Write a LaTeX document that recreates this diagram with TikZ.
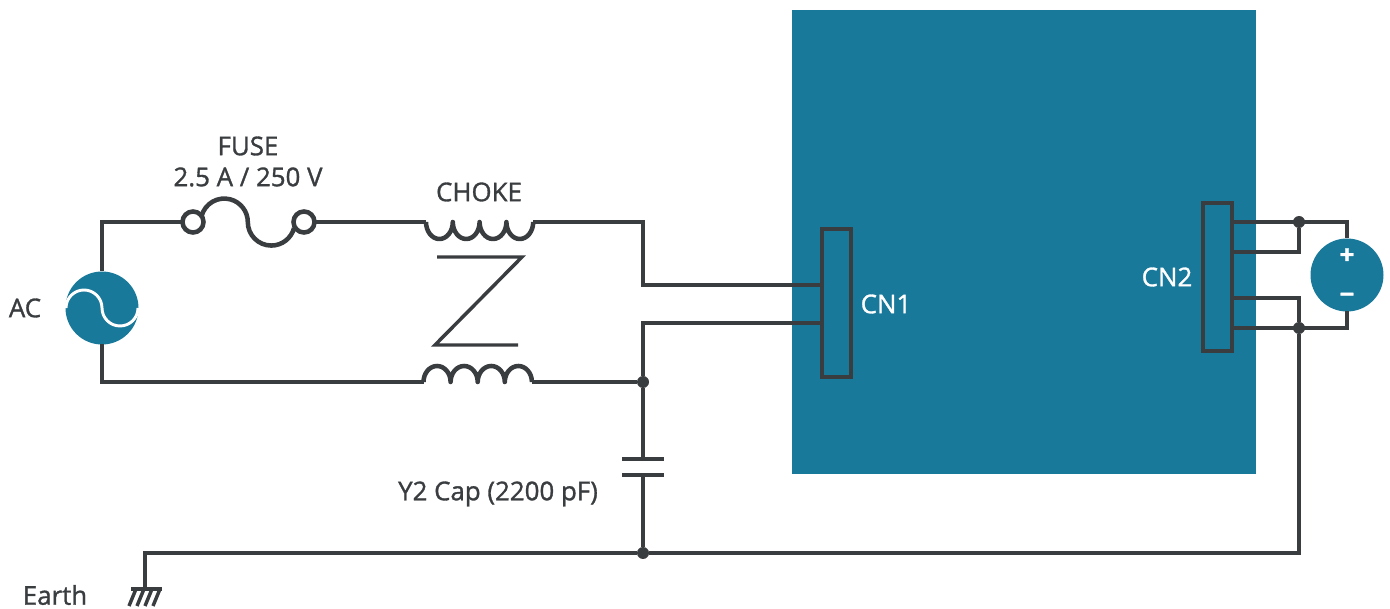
\documentclass[tikz,border=0pt]{standalone}
\usepackage{xcolor}
\usepackage{fontspec}
\setmainfont{Open Sans}[FakeBold=1.2]
\usetikzlibrary{calc}
\definecolor{tealblock}{HTML}{19799B}
\definecolor{wirecol}{HTML}{3A3D40}
\tikzset{
  wire/.style={draw=wirecol,line width=3.4pt,line join=miter},
  thinwire/.style={draw=wirecol,line width=2.6pt},
  label/.style={text=wirecol,inner sep=0pt,font=\fontsize{19.4pt}{23pt}\selectfont},
  boardlabel/.style={label,text=white},
  polarity/.style={boardlabel,font=\fontsize{19.4pt}{23pt}\selectfont\bfseries},
  source/.style={circle,fill=tealblock,inner sep=0pt,outer sep=0pt,minimum size=54.75pt},
  joint/.style={circle,fill=wirecol,inner sep=0pt,outer sep=0pt,minimum size=9pt},
  terminal/.style={circle,wire,fill=white,inner sep=0pt,outer sep=0pt,minimum size=15.75pt},
  connector/.style={rectangle,wire,inner sep=0pt,outer sep=0pt,minimum width=21.75pt,minimum height=111pt}
}
\begin{document}
\begin{tikzpicture}[x=0.75pt,y=0.75pt]
  \useasboundingbox (0,0) rectangle (1390,-609);
  % board
  \node [fill=tealblock,inner sep=0pt,minimum width=348pt,minimum height=348pt] (board) at (1024,-242) {};
  % sources
  \node [source] (ac) at (102,-308) {};
  \node [source] (dc) at (1347,-275) {};
  \draw [white,line width=2.2pt] (66,-308) arc [start angle=180,end angle=0,radius=18] arc [start angle=180,end angle=360,radius=18];
  \node [polarity] (plusLabel) at (1347,-256) {+};
  \node [polarity] (minusLabel) at (1347,-298) {\symbol{"2212}};
  % connectors
  \node [connector] (cn1) at (836.5,-303) {};
  \node [connector] (cn2) at (1217.5,-277) {};
  \coordinate (cn1a) at (822,-285);
  \coordinate (cn1b) at (822,-323);
  \coordinate (cn2a) at (1232,-222);
  \coordinate (cn2b) at (1232,-252);
  \coordinate (cn2c) at (1232,-298);
  \coordinate (cn2d) at (1232,-328);
  % fuse
  \node [terminal] (fuseL) at (193,-222) {};
  \node [terminal] (fuseR) at (304,-222) {};
  \draw [wire] (fuseL.35) arc [start angle=165,end angle=0,radius=23.5] arc [start angle=180,end angle=345,radius=23.5];
  % choke
  \coordinate (chokeTa) at (426,-222);
  \coordinate (chokeTb) at (533,-222);
  \coordinate (chokeBa) at (423.5,-382);
  \coordinate (chokeBb) at (532,-382);
  \draw [wire,line join=round] (chokeTa) arc [start angle=180,end angle=360,x radius=13.4,y radius=17]
    arc [start angle=180,end angle=360,x radius=13.4,y radius=17]
    arc [start angle=180,end angle=360,x radius=13.4,y radius=17]
    arc [start angle=180,end angle=360,x radius=13.4,y radius=17];
  \draw [wire,line join=round] (chokeBa) arc [start angle=180,end angle=0,x radius=13.55,y radius=16]
    arc [start angle=180,end angle=0,x radius=13.55,y radius=16]
    arc [start angle=180,end angle=0,x radius=13.55,y radius=16]
    arc [start angle=180,end angle=0,x radius=13.55,y radius=16];
  \draw [thinwire] (437,-257) -- (522,-257) -- (435,-345) -- (518,-345);
  % joints
  \node [joint] (jA) at (643,-382) {};
  \node [joint] (jB) at (643,-553) {};
  \node [joint] (jC) at (1299,-222) {};
  \node [joint] (jD) at (1299,-328) {};
  % capacitor
  \coordinate (capT) at (643,-459);
  \coordinate (capB) at (643,-475);
  \draw [wire] (622,-459) -- (664,-459);
  \draw [wire] (622,-475) -- (664,-475);
  % earth
  \coordinate (gnd) at (145,-589);
  \draw [wire] (131,-589) -- (162,-589);
  \draw [thinwire] (136,-589) -- (129,-606);
  \draw [thinwire] (144,-589) -- (137,-606);
  \draw [thinwire] (152,-589) -- (145,-606);
  \draw [thinwire] (160,-589) -- (153,-606);
  % wires
  \draw [wire] (ac.north) |- (fuseL);
  \draw [wire] (fuseR) -- (chokeTa);
  \draw [wire] (chokeTb) -| (643,-285) -- (cn1a);
  \draw [wire] (ac.south) |- (chokeBa);
  \draw [wire] (chokeBb) -- (jA);
  \draw [wire] (cn1b) -| (jA);
  \draw [wire] (jA) -- (capT);
  \draw [wire] (capB) -- (jB);
  \draw [wire] (gnd) |- (jB);
  \draw [wire] (jB) -| (jD);
  \draw [wire] (cn2a) -| (dc.north);
  \draw [wire] (cn2b) -| (jC);
  \draw [wire] (cn2c) -| (jD);
  \draw [wire] (cn2d) -| (dc.south);
  % labels
  \node [label] (acLabel) at (25,-308) {AC};
  \node [label] (fuseLabel) at (248,-146) {FUSE};
  \node [label] (ratingLabel) at (248,-177) {2.5 A / 250 V};
  \node [label] (chokeLabel) at (479,-192) {CHOKE};
  \node [label] (capLabel) at (498,-494) {Y2 Cap (2200 pF)};
  \node [label] (earthLabel) at (55,-595) {Earth};
  \node [boardlabel] (cn1Label) at (886,-304) {CN1};
  \node [boardlabel] (cn2Label) at (1167,-277) {CN2};
\end{tikzpicture}
\end{document}
